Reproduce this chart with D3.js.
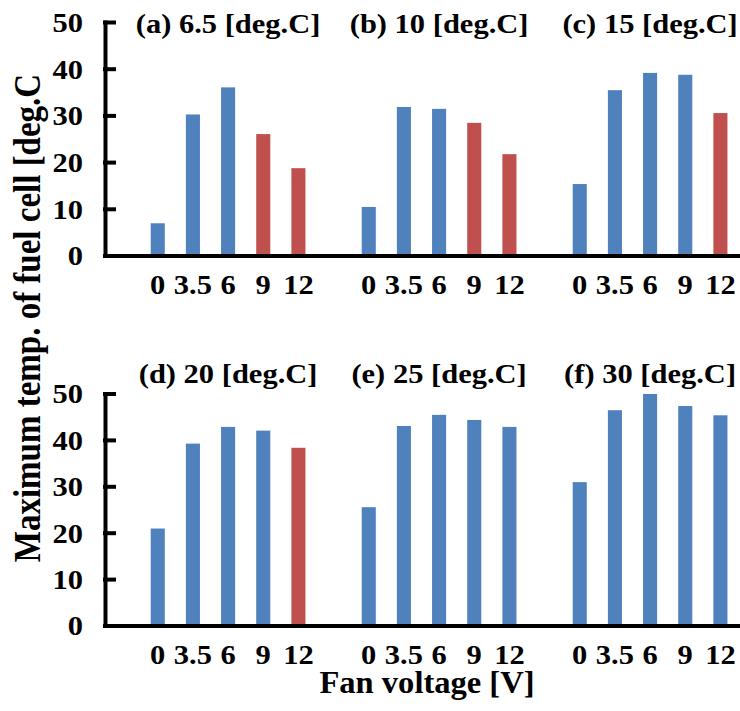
<!DOCTYPE html>
<html>
<head>
<meta charset="utf-8">
<script src="https://cdn.jsdelivr.net/npm/d3@7"></script>
<style>
  body { margin: 0; background: #fff; }
  text { font-family: "Liberation Serif", "Times New Roman", serif; font-weight: bold; fill: #000; }
  .axis path, .axis line { stroke: #000; stroke-width: 4px; stroke-linecap: square; }
</style>
</head>
<body>
<svg id="chart" width="740" height="711"></svg>
<script>
// fan voltages [V] on the x axis of every panel
var voltages = ['0', '3.5', '6', '9', '12']

// panel titles (ambient temperature)
var titlesTop = ['(a) 6.5 [deg.C]', '(b) 10 [deg.C]', '(c) 15 [deg.C]']
var titlesBottom = ['(d) 20 [deg.C]', '(e) 25 [deg.C]', '(f) 30 [deg.C]']

// maximum temperature of fuel cell [deg.C], one array per panel
var tempA = [6.9, 30.2, 36.0, 26.0, 18.7]
var tempB = [10.4, 31.8, 31.4, 28.4, 21.7]
var tempC = [15.3, 35.4, 39.1, 38.7, 30.5]
var tempD = [20.9, 39.2, 42.8, 42.0, 38.3]
var tempE = [25.5, 43.0, 45.4, 44.3, 42.8]
var tempF = [30.9, 46.4, 49.9, 47.3, 45.3]

// bars drawn in red (1) instead of blue (0)
var redA = [0, 0, 0, 1, 1]
var redB = [0, 0, 0, 1, 1]
var redC = [0, 0, 0, 0, 1]
var redD = [0, 0, 0, 0, 1]
var redE = [0, 0, 0, 0, 0]
var redF = [0, 0, 0, 0, 0]

var yTicks = [0, 10, 20, 30, 40, 50]

var colorBlue = '#4F81BD'
var colorRed = '#C0504D'
var stretch = 1.13 // the original lettering is a little wider than Liberation Serif

var svg = d3.select('#chart')

// one category slot per bar, with an empty slot in front of every panel
function slotsFor(ids) {
    var s = []
    ids.forEach(function (id) {
        s.push(id + '|gap')
        voltages.forEach(function (v) { s.push(id + '|' + v) })
    })
    return s
}

function drawRow(ids, titles, temps, reds, y0, y50, titleY) {
    var x = d3.scaleBand()
        .domain(slotsFor(ids))
        .range([105, 738])
        .paddingInner(0.6)
        .paddingOuter(0.3)
    var y = d3.scaleLinear().domain([0, 50]).range([y0, y50])

    var g = svg.append('g')

    var bars = []
    ids.forEach(function (id, p) {
        voltages.forEach(function (v, i) {
            bars.push({ key: id + '|' + v, value: temps[p][i], red: reds[p][i] })
        })
    })

    g.selectAll('rect')
        .data(bars)
        .enter().append('rect')
        .attr('x', function (d) { return x(d.key) })
        .attr('width', x.bandwidth())
        .attr('y', function (d) { return y(d.value) })
        .attr('height', function (d) { return y(0) - y(d.value) })
        .attr('fill', function (d) { return d.red ? colorRed : colorBlue })

    // panel titles centred over their five bars
    g.selectAll('.title')
        .data(ids)
        .enter().append('text')
        .attr('class', 'title')
        .attr('transform', function (id) {
            var cx = (x(id + '|0') + x(id + '|12') + x.bandwidth()) / 2
            return 'translate(' + cx + ',' + titleY + ') scale(' + stretch + ',1)'
        })
        .attr('text-anchor', 'middle')
        .attr('font-size', 27)
        .text(function (id, i) { return titles[i] })

    var xAxis = g.append('g')
        .attr('class', 'axis')
        .attr('transform', 'translate(0,' + y0 + ')')
        .call(d3.axisBottom(x)
            .tickSize(0)
            .tickSizeOuter(0)
            .tickPadding(19)
            .tickFormat(function (k) {
                var v = k.split('|')[1]
                return v === 'gap' ? '' : v
            }))
    xAxis.selectAll('.tick line').remove()
    xAxis.selectAll('text')
        .attr('font-size', 27)
        .attr('font-family', null)
        .attr('transform', 'scale(' + stretch + ',1)')

    var yAxis = g.append('g')
        .attr('class', 'axis')
        .attr('transform', 'translate(105,0)')
        .call(d3.axisLeft(y)
            .tickValues(yTicks)
            .tickSize(-9)
            .tickSizeOuter(0)
            .tickPadding(22))
    yAxis.selectAll('text')
        .attr('font-size', 27)
        .attr('font-family', null)
        .attr('dy', '0.35em')
        .attr('x', 0)
        .attr('transform', 'translate(-22,0) scale(' + stretch + ',1)')
}

drawRow(['a', 'b', 'c'], titlesTop, [tempA, tempB, tempC], [redA, redB, redC], 255.5, 22, 33)
drawRow(['d', 'e', 'f'], titlesBottom, [tempD, tempE, tempF], [redD, redE, redF], 625.5, 393.5, 383)

svg.append('text')
    .attr('transform', 'translate(40,318) rotate(-90) scale(1,' + stretch + ')')
    .attr('text-anchor', 'middle')
    .attr('font-size', 33)
    .text('Maximum temp. of fuel cell [deg.C')

svg.append('text')
    .attr('transform', 'translate(427,693) scale(1.05,1)')
    .attr('text-anchor', 'middle')
    .attr('font-size', 31)
    .text('Fan voltage [V]')
</script>
</body>
</html>
